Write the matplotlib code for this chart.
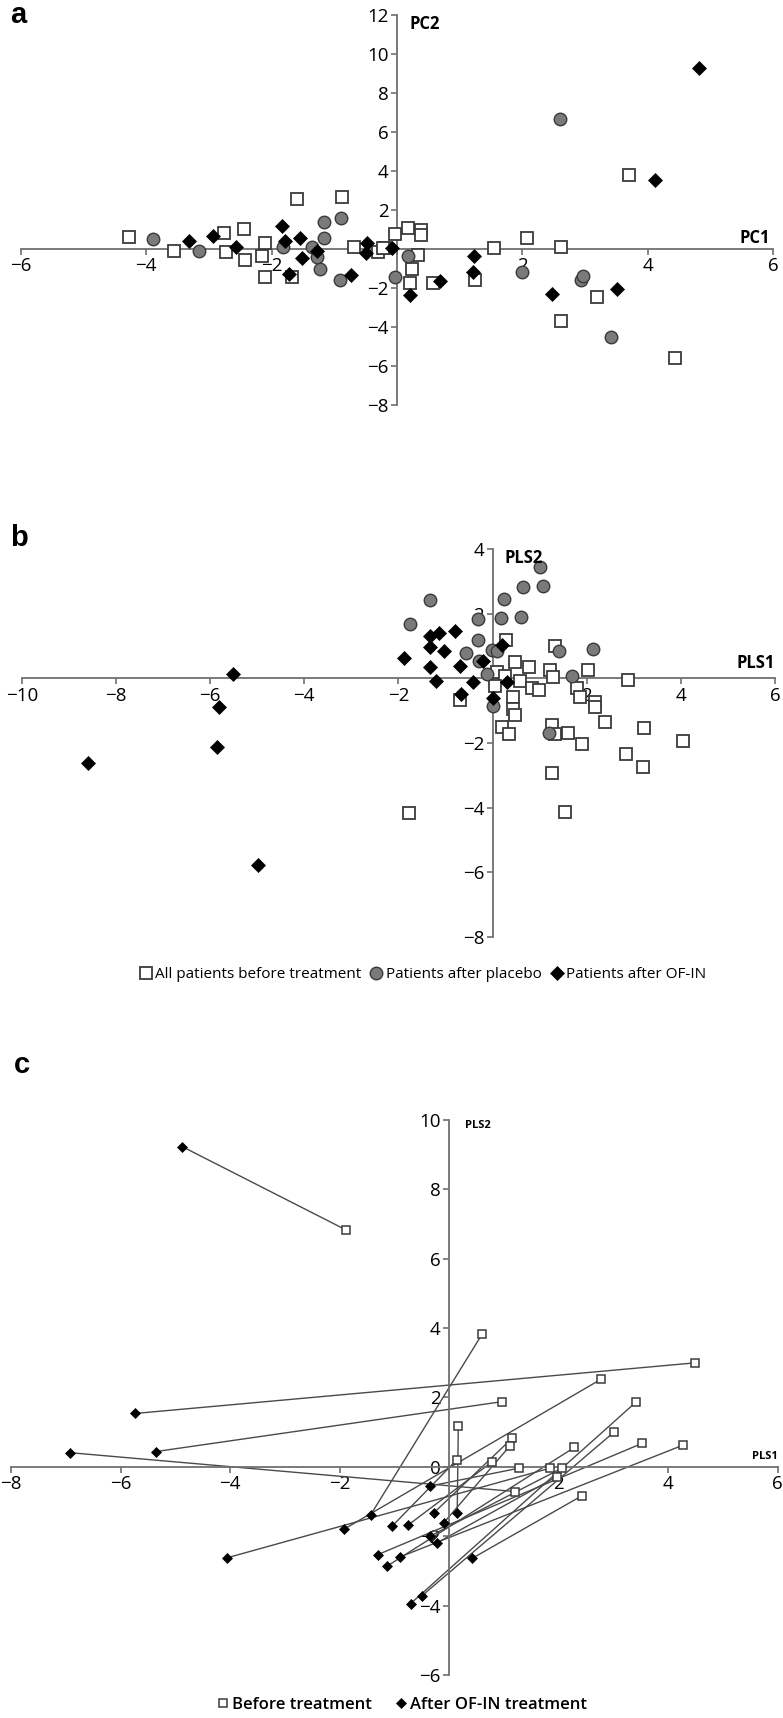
import numpy as np
import matplotlib
matplotlib.use('Agg')
import matplotlib.pyplot as plt
from matplotlib.ticker import FuncFormatter
from matplotlib.lines import Line2D

# ---- panel a: PCA scores ----
a_before_x = [-4.27, -3.56, -2.76, -2.44, -2.73, -2.42, -2.11, -2.16, -1.59, -0.88, -2.11, -1.68,
              -0.69, -0.30, -0.19, -0.03, 0.18, 0.39, 0.39, 0.33, 0.24, 1.54, 2.07, 2.62, 3.70,
              0.58, 1.25, 3.19, -0.22, 2.61, 4.43, 0.21]
a_before_y = [0.60, -0.09, 0.81, 1.02, -0.14, -0.57, 0.33, -0.36, 2.57, 2.67, -1.46, -1.46,
              0.12, -0.14, 0.03, 0.78, 1.10, 0.98, 0.72, -0.31, -1.00, 0.04, 0.55, 0.12, 3.82,
              -1.74, -1.57, -2.46, 0.04, -3.71, -5.58, -1.73]
a_placebo_x = [-3.89, -3.16, -1.16, -0.90, -1.16, -1.23, -1.27, -1.36, -0.91, -1.81, -0.03,
               2.60, 0.17, 1.99, 2.94, 2.96, 3.41]
a_placebo_y = [0.52, -0.09, 1.41, 1.58, 0.58, -1.00, -0.40, 0.12, -1.60, 0.12, -1.43,
               6.66, -0.36, -1.17, -1.60, -1.39, -4.50]
a_ofin_x = [-3.31, -2.93, -2.56, -1.84, -1.79, -1.54, -1.28, -1.51, -1.72, -0.74, -0.48, -0.50,
            -0.08, 4.81, 4.11, 1.22, 1.21, 0.68, 2.47, 3.51, 0.21]
a_ofin_y = [0.43, 0.67, 0.12, 1.19, 0.43, 0.58, -0.09, -0.48, -1.29, -1.34, 0.33, -0.22,
            0.04, 9.28, 3.56, -0.36, -1.17, -1.65, -2.29, -2.03, -2.38]

# ---- panel b: PLS scores ----
b_before_x = [0.29, 1.33, 0.48, 0.78, 1.22, 2.03, 2.88, 0.09, 0.27, 0.58, 0.83, 0.99, 1.28,
              1.79, 1.86, 2.18, 2.18, 2.39, 0.44, 0.44, 0.48, 0.20, 0.34, -0.69, 1.26, 1.33,
              1.60, 1.89, 3.22, 4.05, 2.84, 3.19, 1.26, -1.77, 1.54, 0.06]
b_before_y = [1.20, 1.00, 0.51, 0.34, 0.25, 0.25, -0.06, 0.19, 0.07, -0.09, -0.31, -0.36, 0.03,
              -0.31, -0.57, -0.73, -0.88, -1.35, -0.57, -0.96, -1.13, -1.52, -1.71, -0.67, -1.45,
              -1.71, -1.69, -2.02, -1.55, -1.93, -2.33, -2.74, -2.94, -4.18, -4.13, -0.25]
b_placebo_x = [1.01, 0.65, 1.08, 0.24, -1.33, -1.75, -0.30, 0.17, 0.61, -0.31, -0.56, -0.02,
               0.09, -0.29, -0.11, 1.42, 2.13, 1.68, 1.19, 0.00]
b_placebo_y = [3.43, 2.83, 2.85, 2.44, 2.42, 1.68, 1.82, 1.87, 1.91, 1.18, 0.79, 0.87,
               0.83, 0.54, 0.13, 0.83, 0.90, 0.08, -1.69, -0.85]
b_ofin_x = [-1.89, -1.33, -1.13, -0.80, -1.33, -1.04, -1.33, -1.20, -0.70, -0.41, -0.67, -0.21,
            0.20, 0.30, 0.00, -5.51, -5.82, -5.86, -8.60, -4.99]
b_ofin_y = [0.62, 1.31, 1.41, 1.47, 0.96, 0.83, 0.34, -0.08, 0.38, -0.10, -0.47, 0.55,
            1.03, -0.10, -0.62, 0.13, -0.88, -2.13, -2.63, -5.78]

# ---- panel c: paired patients, before -> after OF-IN ----
c_before_x = [-1.88, 4.50, 0.97, 1.20, 1.84, 2.78, 0.61, 0.14, 0.79, 1.27, 1.15, 1.11, 0.17,
              1.97, 2.06, 3.53, 4.28, 2.29, 2.43, 3.02, 3.41]
c_before_y = [6.83, 3.00, 1.88, -0.71, -0.04, 2.53, 3.84, 0.20, 0.15, -0.04, 0.82, 0.60, 1.18,
              -0.28, -0.04, 0.68, 0.63, 0.56, -0.83, 1.01, 1.86]
c_after_x = [-4.87, -5.73, -5.36, -6.93, -4.05, -1.91, -1.43, -1.04, -0.74, -0.34, -0.28, -0.10,
             0.15, -0.22, -0.35, -1.30, -0.90, -1.13, 0.42, -0.49, -0.70]
c_after_y = [9.23, 1.54, 0.44, 0.41, -2.62, -1.79, -1.38, -1.71, -1.67, -0.55, -1.33, -1.62,
             -1.33, -2.19, -2.00, -2.53, -2.60, -2.86, -2.64, -3.71, -3.94]

AXIS_COLOR = '#6f6f6f'
plt.rcParams['font.family'] = ['Open Sans', 'DejaVu Sans']


def hide_zero(v, pos):
    if abs(v) < 1e-9:
        return ''
    return f'{v:g}'.replace('-', '\u2212')


def with_zero(v, pos):
    return f'{v:g}'.replace('-', '\u2212')


def setup_cross_axes(ax, xlim, ylim, xstep, ystep, fs=13.5, yzero=False):
    ax.set_xlim(*xlim)
    ax.set_ylim(*ylim)
    for side in ('top', 'right'):
        ax.spines[side].set_visible(False)
    for side in ('left', 'bottom'):
        ax.spines[side].set_position(('data', 0))
        ax.spines[side].set_color(AXIS_COLOR)
        ax.spines[side].set_linewidth(1.3)
    ax.set_xticks(np.arange(xlim[0], xlim[1] + 0.01, xstep))
    ax.set_yticks(np.arange(ylim[0], ylim[1] + 0.01, ystep))
    ax.xaxis.set_major_formatter(FuncFormatter(hide_zero))
    ax.yaxis.set_major_formatter(FuncFormatter(with_zero if yzero else hide_zero))
    ax.tick_params(direction='out', length=4, width=1.2, color=AXIS_COLOR,
                   labelsize=fs, pad=2)
    ax.patch.set_visible(False)


fig = plt.figure(figsize=(7.83, 17.18), dpi=100)

sq_kw = dict(marker='s', ms=8.5, mfc='white', mec='#3a3a3a', mew=1.3, ls='none', zorder=3)
ci_kw = dict(marker='o', ms=9, mfc='#7a7a7a', mec='#3a3a3a', mew=1.0, ls='none', zorder=3)
di_kw = dict(marker='D', ms=7.5, mfc='black', mec='black', mew=0.5, ls='none', zorder=3)

# panel a
ax_a = fig.add_axes([0.02644, 0.76426, 0.9612, 0.2270])
setup_cross_axes(ax_a, (-6, 6), (-8, 12), 2, 2)
ax_a.plot(a_before_x, a_before_y, **sq_kw)
ax_a.plot(a_placebo_x, a_placebo_y, **ci_kw)
ax_a.plot(a_ofin_x, a_ofin_y, **di_kw)
ax_a.text(5.95, 0.1, 'PC1', fontsize=12, fontweight='bold', ha='right', va='bottom')
ax_a.text(0.2, 12, 'PC2', fontsize=12, fontweight='bold', ha='left', va='top')

# panel b
ax_b = fig.add_axes([0.02771, 0.45460, 0.9621, 0.22584])
setup_cross_axes(ax_b, (-10, 6), (-8, 4), 2, 2)
ax_b.plot(b_before_x, b_before_y, **sq_kw)
ax_b.plot(b_placebo_x, b_placebo_y, **ci_kw)
ax_b.plot(b_ofin_x, b_ofin_y, **di_kw)
ax_b.text(6.0, 0.2, 'PLS1', fontsize=12, fontweight='bold', ha='right', va='bottom')
ax_b.text(0.25, 4.0, 'PLS2', fontsize=12, fontweight='bold', ha='left', va='top')

handles_b = [Line2D([], [], **sq_kw), Line2D([], [], **ci_kw), Line2D([], [], **di_kw)]
fig.legend(handles_b, ['All patients before treatment', 'Patients after placebo',
                       'Patients after OF-IN'],
           loc='center', bbox_to_anchor=(0.54, 0.4325), ncol=3, frameon=False,
           fontsize=11, handlelength=0.8, handletextpad=0.2, columnspacing=0.6)

# panel c
ax_c = fig.add_axes([0.01405, 0.02503, 0.97893, 0.32305])
setup_cross_axes(ax_c, (-8, 6), (-6, 10), 2, 2, yzero=True)
for bx, by, fx, fy in zip(c_before_x, c_before_y, c_after_x, c_after_y):
    ax_c.plot([bx, fx], [by, fy], color='#4a4a4a', lw=1.0, zorder=2)
sq_c = dict(marker='s', ms=5.5, mfc='white', mec='#3a3a3a', mew=1.1, ls='none', zorder=3)
di_c = dict(marker='D', ms=5, mfc='black', mec='black', mew=0.5, ls='none', zorder=3)
ax_c.plot(c_before_x, c_before_y, **sq_c)
ax_c.plot(c_after_x, c_after_y, **di_c)
ax_c.text(6.0, 0.15, 'PLS1', fontsize=8, fontweight='bold', ha='right', va='bottom')
ax_c.text(0.3, 10, 'PLS2', fontsize=8, fontweight='bold', ha='left', va='top')

handles_c = [Line2D([], [], **sq_c), Line2D([], [], **di_c)]
fig.legend(handles_c, ['Before treatment', 'After OF-IN treatment'],
           loc='center', bbox_to_anchor=(0.514, 0.0076), ncol=2, frameon=False,
           fontsize=12, handlelength=0.6, handletextpad=0.2, columnspacing=1.5,
           prop={'weight': 'semibold', 'size': 12})

for lab, (x, y) in zip(['a', 'b', 'c'], [(10, 15), (10, 538), (14, 1065)]):
    fig.text(x / 783, 1 - y / 1718, lab, fontsize=21, fontweight='bold',
             family='Liberation Sans', ha='left', va='center')

fig.savefig('out.png', dpi=100)
